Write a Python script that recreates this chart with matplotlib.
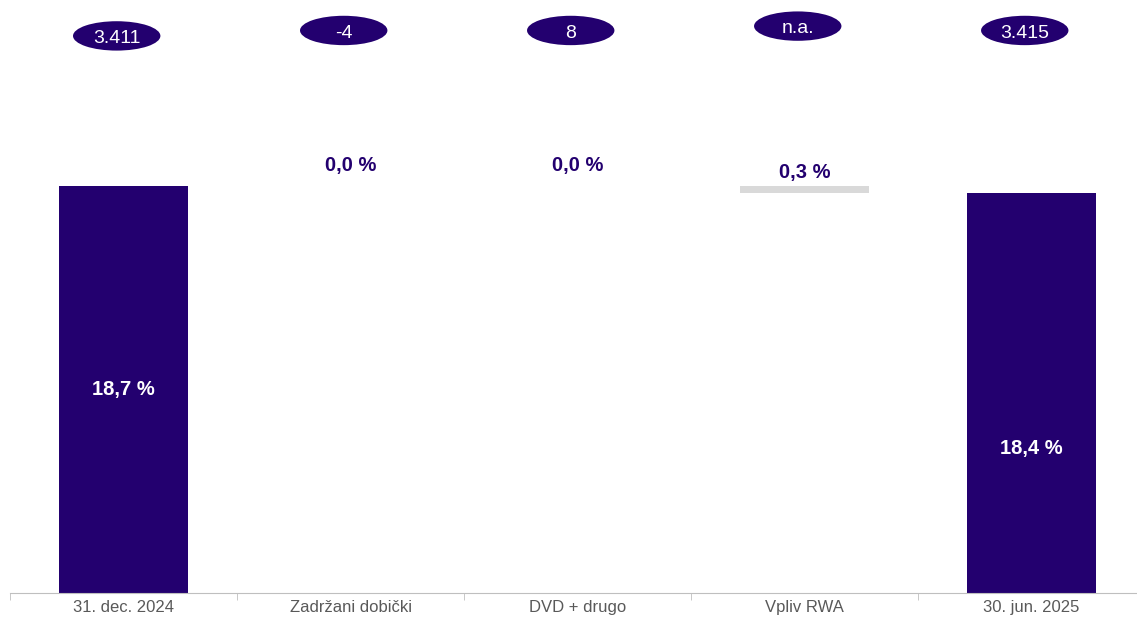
import matplotlib.pyplot as plt
from matplotlib.patches import Ellipse

plt.rcParams['font.family'] = ['Liberation Sans', 'DejaVu Sans']

# podatki
kategorije = ['31. dec. 2024', 'Zadržani dobički', 'DVD + drugo', 'Vpliv RWA', '30. jun. 2025']
spremembe = [18.7, 0.0, 0.0, -0.3, 18.4]   # kapitalski količnik v %
oznake = ['18,7 %', '0,0 %', '0,0 %', '0,3 %', '18,4 %']
kapital = ['3.411', '-4', '8', 'n.a.', '3.415']   # mio EUR
skupni = [True, False, False, False, True]

vijolicna = '#23006F'
siva = '#D9D9D9'

fig = plt.figure(figsize=(11.37, 6.17), dpi=100)
ax = fig.add_axes([0.0088, 0.0389, 0.9983, 0.9611])

x = list(range(len(kategorije)))
sirina = 0.57

# izracun baz za slap
dna = []
visine = []
tekoce = 0
for i, v in enumerate(spremembe):
    if skupni[i]:
        dna.append(0)
        visine.append(v)
        tekoce = v
    else:
        if v >= 0:
            dna.append(tekoce)
            visine.append(v)
        else:
            dna.append(tekoce + v)
            visine.append(-v)
        tekoce += v

barve = [vijolicna if s else siva for s in skupni]
ax.bar(x, visine, bottom=dna, width=sirina, color=barve, linewidth=0)

# oznake na stolpcih
for i in range(len(kategorije)):
    if skupni[i]:
        ypos = visine[i] * (0.5 if i == 0 else 0.36)
        ax.text(x[i], ypos, oznake[i], ha='center', va='center', color='white',
                fontsize=14.5, fontweight='bold')
    else:
        vrh = dna[i] + visine[i]
        odmik = 0.5 if visine[i] == 0 else 0.2
        ax.text(x[i], vrh + odmik, oznake[i], ha='center', va='bottom', color=vijolicna,
                fontsize=14.5, fontweight='bold')

# elipse z zneski kapitala
y_elipse = [25.6, 25.85, 25.85, 26.05, 25.85]
for i in range(len(kategorije)):
    e = Ellipse((x[i] - 0.03, y_elipse[i]), width=0.385, height=1.35,
                facecolor=vijolicna, edgecolor='none', clip_on=False)
    ax.add_patch(e)
    ax.text(x[i] - 0.03, y_elipse[i] - 0.04, kapital[i], ha='center', va='center_baseline',
            color='white', fontsize=14)

ax.set_xlim(-0.5, len(kategorije) - 0.5)
ax.set_ylim(0, 27.25)
ax.set_yticks([])
ax.set_xticks(x)
ax.set_xticklabels(kategorije, fontsize=12, color='#595959')
ax.set_xticks([i + 0.5 for i in range(-1, len(kategorije))], minor=True)
ax.tick_params(axis='x', which='major', length=0, pad=5)
ax.tick_params(axis='x', which='minor', length=5, color='#BFBFBF', direction='out')

for s in ['top', 'right', 'left']:
    ax.spines[s].set_visible(False)
ax.spines['bottom'].set_color('#BFBFBF')

plt.savefig('out.png', dpi=100)
